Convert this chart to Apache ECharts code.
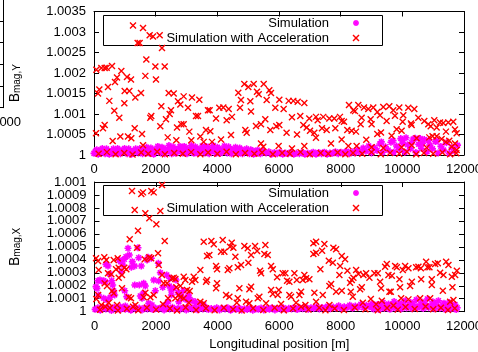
<!DOCTYPE html>
<html>
<head>
<meta charset="utf-8">
<script src="https://cdn.jsdelivr.net/npm/echarts@6/dist/echarts.min.js"></script>
<style>
  html, body { margin: 0; padding: 0; background: #fff; }
  #chart { width: 478px; height: 352px; }
</style>
</head>
<body>
<div id="chart"></div>
<script>
// ---- data -----------------------------------------------------------------
const seriesNames = ['Simulation', 'Simulation with Acceleration'];
const xTicks = [0, 2000, 4000, 6000, 8000, 10000, 12000];
const yTicksMagY = [1, 1.0005, 1.001, 1.0015, 1.002, 1.0025, 1.003, 1.0035];
const yTicksMagX = [1, 1.0001, 1.0002, 1.0003, 1.0004, 1.0005, 1.0006, 1.0007, 1.0008, 1.0009, 1.001];
const xAxisTitle = 'Longitudinal position [m]';

// B_mag,Y : plain simulation
const simMagY = [
  [0,1.00004],[90,1.00013],[180,1.00007],[270,1.00016],[360,1.00003],[450,1.00011],[540,1.00005],[630,1.00015],
  [720,1.00004],[810,1.00012],[900,1.00008],[990,1.00016],[1080,1.00003],[1170,1.00011],[1260,1.00006],[1350,1.00015],
  [1440,1.00005],[1530,1.00014],[1620,1.00008],[1710,1.00019],[1800,1.00004],[1890,1.00014],[1980,1.00008],[2070,1.00021],
  [2160,1.00005],[2250,1.00016],[2340,1.00010],[2430,1.00023],[2520,1.00003],[2610,1.00015],[2700,1.00008],[2790,1.00021],
  [2880,1.00005],[2970,1.00017],[3060,1.00011],[3150,1.00023],[3240,1.00004],[3330,1.00016],[3420,1.00009],[3510,1.00022],
  [3600,1.00005],[3690,1.00017],[3780,1.00010],[3870,1.00023],[3960,1.00004],[4050,1.00015],[4140,1.00008],[4230,1.00022],
  [4320,1.00005],[4410,1.00016],[4500,1.00009],[4590,1.00019],[4680,1.00004],[4770,1.00014],[4860,1.00007],[4950,1.00015],
  [5040,1.00003],[5130,1.00011],[5220,1.00006],[5310,1.00012],[5400,1.00003],[5490,1.00009],[5580,1.00005],[5670,1.00008],
  [5760,1.00002],[5850,1.00006],[5940,1.00003],[6030,1.00007],[6120,1.00002],[6210,1.00005],[6300,1.00003],[6390,1.00007],
  [6480,1.00002],[6570,1.00005],[6660,1.00003],[6750,1.00006],[6840,1.00002],[6930,1.00005],[7020,1.00003],[7110,1.00007],
  [7200,1.00002],[7290,1.00006],[7380,1.00003],[7470,1.00007],[7560,1.00002],[7650,1.00005],[7740,1.00004],[7830,1.00008],
  [7920,1.00003],[8010,1.00007],[8100,1.00004],[8190,1.00009],[8280,1.00003],[8370,1.00008],[8460,1.00005],[8550,1.00013],
  [8640,1.00006],[8730,1.00017],[8820,1.00009],[8910,1.00022],[9000,1.00005],[9090,1.00018],[9180,1.00011],[9270,1.00027],
  [9360,1.00006],[9450,1.00020],[9540,1.00012],[9630,1.00031],[9720,1.00007],[9810,1.00022],[9900,1.00014],[9990,1.00036],
  [10080,1.00007],[10170,1.00025],[10260,1.00015],[10350,1.00039],[10440,1.00006],[10530,1.00026],[10620,1.00016],[10710,1.00038],
  [10800,1.00008],[10890,1.00024],[10980,1.00015],[11070,1.00033],[11160,1.00005],[11250,1.00021],[11340,1.00012],[11430,1.00030],
  [11520,1.00004],[11610,1.00018],[11700,1.00009],[11790,1.00024],
  [9320,1.00032],[9700,1.00035],[9950,1.00040],[10120,1.00042],[10420,1.00041],[10580,1.00040],[10850,1.00036],[11120,1.00034],
  [10010,1.00028],[10300,1.00030],[10660,1.00029],
  [45,1.00009],[135,1.00002],[225,1.00012],[315,1.00006],[405,1.00015],[495,1.00002],[585,1.00010],[675,1.00007],
  [765,1.00016],[855,1.00003],[945,1.00012],[1035,1.00006],[1125,1.00015],[1215,1.00002],[1305,1.00011],[1395,1.00008],
  [1485,1.00016],[1575,1.00003],[1665,1.00012],[1755,1.00007],[1845,1.00017],[1935,1.00002],[2025,1.00013],[2115,1.00009],
  [2205,1.00019],[2295,1.00003],[2385,1.00014],[2475,1.00008],[2565,1.00020],[2655,1.00004],[2745,1.00014],[2835,1.00010],
  [2925,1.00021],[3015,1.00003],[3105,1.00015],[3195,1.00008],[3285,1.00020],[3375,1.00004],[3465,1.00014],[3555,1.00010],
  [3645,1.00021],[3735,1.00003],[3825,1.00015],[3915,1.00008],[4005,1.00019],[4095,1.00004],[4185,1.00013],[4275,1.00010],
  [4365,1.00020],[4455,1.00003],[4545,1.00013],[4635,1.00008],[4725,1.00017],[4815,1.00003],[4905,1.00011],[4995,1.00007],
  [5085,1.00013],[5175,1.00002],[5265,1.00009],[5355,1.00005],[5445,1.00010]
];

// B_mag,Y : simulation with acceleration
const accMagY = [
  [1265,1.00316],[1590,1.00310],[1805,1.00292],[1913,1.00289],[2130,1.00292],[1415,1.00273],[1480,1.00273],[2205,1.00261],
  [1697,1.00233],[76,1.00208],[238,1.00212],[346,1.00212],[411,1.00213],[584,1.00217],[886,1.00205],[746,1.00189],
  [681,1.00178],[1070,1.00190],[1200,1.00184],[1665,1.00193],[1990,1.00216],[2010,1.00184],[2293,1.00216],[454,1.00166],
  [173,1.00160],[130,1.00150],[995,1.00156],[1146,1.00156],[1340,1.00140],[1524,1.00151],[2422,1.00151],[2585,1.00150],
  [497,1.00132],[984,1.00126],[2908,1.00143],[2724,1.00131],[2800,1.00123],[3178,1.00140],[3416,1.00135],[3049,1.00115],
  [2183,1.00119],[658,1.00108],[820,1.00091],[1858,1.00095],[1826,1.00091],[2497,1.00109],[2455,1.00100],[2335,1.00087],
  [3308,1.00095],[3373,1.00095],[3697,1.00109],[3751,1.00109],[3957,1.00089],[346,1.00073],[292,1.00065],[1320,1.00065],
  [1557,1.00051],[2150,1.00070],[2830,1.00075],[2908,1.00075],[2692,1.00067],[3092,1.00057],[3632,1.00061],[3773,1.00058],
  [3448,1.00045],[3156,1.00036],[65,1.00053],[606,1.00034],[854,1.00045],[1103,1.00045],[1210,1.00041],[2390,1.00043],
  [2670,1.00036],[1590,1.00024],[3557,1.00032],[3827,1.00032],
  [4875,1.00173],[5005,1.00166],[5180,1.00173],[5504,1.00173],[4680,1.00152],[5286,1.00154],[5342,1.00148],[5686,1.00158],
  [5740,1.00151],[4767,1.00134],[5070,1.00131],[5600,1.00134],[6010,1.00135],[6314,1.00132],[6464,1.00132],[6606,1.00130],
  [6821,1.00127],[4064,1.00115],[4194,1.00116],[4369,1.00112],[4735,1.00115],[4475,1.00093],[4302,1.00085],[5092,1.00106],
  [5880,1.00115],[6150,1.00112],[5555,1.00087],[5416,1.00075],[5254,1.00071],[6421,1.00092],[6690,1.00095],[6982,1.00089],
  [7199,1.00093],[7254,1.00085],[7436,1.00093],[7631,1.00089],[7793,1.00089],[4907,1.00061],[4952,1.00054],[4443,1.00049],
  [5912,1.00070],[6010,1.00073],[5718,1.00061],[6788,1.00073],[6898,1.00067],[7005,1.00059],[7145,1.00054],[7394,1.00065],
  [7546,1.00061],[7826,1.00065],[6246,1.00054],[6584,1.00050],[7199,1.00042],[4119,1.00038],[5416,1.00028],[5491,1.00020],
  [5988,1.00022],[6821,1.00022],[7686,1.00028],[6421,1.00016],
  [8270,1.00122],[8572,1.00122],[8409,1.00109],[8464,1.00107],[8756,1.00116],[8896,1.00112],[9058,1.00116],[9188,1.00105],
  [9275,1.00097],[9382,1.00117],[9577,1.00119],[9706,1.00109],[9761,1.00096],[9901,1.00116],[10031,1.00097],[10193,1.00115],
  [10388,1.00112],[8681,1.00091],[8973,1.00087],[9490,1.00083],[10010,1.00081],[10518,1.00091],[10280,1.00077],[10302,1.00073],
  [10712,1.00083],[10842,1.00075],[10920,1.00070],[11036,1.00085],[11220,1.00079],[11328,1.00078],[11490,1.00079],[11652,1.00081],
  [11113,1.00067],[11707,1.00062],[11762,1.00053],[11415,1.00057],[8215,1.00061],[8356,1.00059],[8497,1.00057],[8032,1.00083],
  [8107,1.00081],[8648,1.00075],[9004,1.00075],[7977,1.00093],[9815,1.00063],[9977,1.00059],[9188,1.00051],[9307,1.00055],
  [9653,1.00047],[8830,1.00037],[8032,1.00038],[8518,1.00022],[8248,1.00022],[10875,1.00043],[10980,1.00046],[11113,1.00046],
  [10463,1.00041],[11273,1.00039],[11415,1.00032],[11522,1.00035],[10302,1.00024],[11707,1.00028],[11600,1.00020],[11762,1.00012],
  [9004,1.00019],[9382,1.00017],[9977,1.00019],[10788,1.00018],
  [150,1.00003],[420,1.00007],[700,1.00002],[980,1.00005],[1250,1.00001],[1530,1.00006],[1760,1.00003],[2050,1.00008],
  [2300,1.00002],[2600,1.00005],[2880,1.00003],[3150,1.00007],[3450,1.00002],[3700,1.00006],[4000,1.00003],[4300,1.00008],
  [4600,1.00002],[4900,1.00005],[5200,1.00003],[5450,1.00006],[5800,1.00002],[6100,1.00005],[6350,1.00003],[6700,1.00007],
  [7000,1.00002],[7350,1.00005],[7600,1.00003],[7900,1.00006],[8150,1.00002],[8400,1.00005],[8700,1.00003],[9000,1.00007],
  [9300,1.00002],[9600,1.00005],[9900,1.00003],[10150,1.00008],[10450,1.00002],[10700,1.00005],[11000,1.00003],[11300,1.00006],
  [11550,1.00002],[11750,1.00004]
];

// B_mag,X : plain simulation
const simMagX = [
  [1088,1.000489],[1413,1.000493],[1436,1.000416],[1306,1.000352],[1196,1.000342],[1520,1.000352],[1023,1.000424],[871,1.000308],
  [926,1.000360],[439,1.000352],[494,1.000291],[1706,1.000399],[1738,1.000419],[1846,1.000412],[2138,1.000301],[2086,1.000237],
  [1923,1.000244],[1976,1.000162],[2216,1.000188],[2431,1.000198],[2486,1.000167],[2573,1.000180],[2713,1.000147],[2788,1.000129],
  [2898,1.000103],[3005,1.000090],[3061,1.000111],[3168,1.000085],[3275,1.000077],[3418,1.000057],[3548,1.000052],[1598,1.000219],
  [1651,1.000198],[1306,1.000206],[1488,1.000121],[1543,1.000103],[981,1.000162],[624,1.000160],[656,1.000129],[299,1.000239],
  [351,1.000231],[114,1.000239],[81,1.000180],[136,1.000129],[299,1.000103],[406,1.000090],[513,1.000111],[1001,1.000044],
  [838,1.000039],[1761,1.000065],[1868,1.000052],[2300,1.000052],[2388,1.000077],[2736,1.000077],[2496,1.000129],
  [806,1.000399],[851,1.000386],[968,1.000404],[1131,1.000437],[374,1.000365],[179,1.000244],[234,1.000237],[49,1.000193],
  [559,1.000239],[591,1.000206],[1228,1.000386],[2073,1.000373],[2346,1.000283],[2453,1.000258],[2648,1.000244],[2885,1.000162],
  [3048,1.000129],[1456,1.000206],[1586,1.000142],[1046,1.000116],
  [20,1.000018],[110,1.000030],[190,1.000012],[280,1.000036],[370,1.000020],[460,1.000028],[550,1.000010],[640,1.000034],
  [730,1.000022],[820,1.000015],[910,1.000031],[1000,1.000019],[1090,1.000026],[1180,1.000012],[1270,1.000033],[1360,1.000021],
  [1450,1.000028],[1540,1.000014],[1630,1.000030],[1720,1.000020],[1810,1.000035],[1900,1.000016],[1990,1.000027],[2080,1.000022],
  [2170,1.000032],[2260,1.000014],[2350,1.000029],[2440,1.000020],[2530,1.000034],[2620,1.000017],[2710,1.000026],[2800,1.000021],
  [2890,1.000031],[2980,1.000013],[3070,1.000027],[3160,1.000022],[3250,1.000035],[3340,1.000015],[3430,1.000028],[3520,1.000020],
  [3610,1.000032],[3700,1.000016],[3790,1.000025],[3880,1.000019],[3970,1.000030],[4060,1.000014],[4150,1.000026],[4240,1.000021],
  [4330,1.000030],[4420,1.000012],[4510,1.000024],[4600,1.000018],[4690,1.000028],[4780,1.000013],[4870,1.000022],[4960,1.000017],
  [5050,1.000027],[5140,1.000011],[5230,1.000023],[5320,1.000018],[5410,1.000029],[5500,1.000014],[5590,1.000024],[5680,1.000019],
  [5770,1.000030],[5860,1.000013],[5950,1.000025],[6040,1.000020],[6130,1.000031],[6220,1.000015],[6310,1.000026],[6400,1.000021],
  [6490,1.000033],[6580,1.000016],[6670,1.000028],[6760,1.000022],[6850,1.000035],[6940,1.000018],[7030,1.000030],[7120,1.000024],
  [7210,1.000038],[7300,1.000020],[7390,1.000033],[7480,1.000026],[7570,1.000041],[7660,1.000022],[7750,1.000036],[7840,1.000028],
  [7930,1.000045],[8020,1.000024],[8110,1.000039],[8200,1.000030],[8290,1.000050],[8380,1.000027],[8470,1.000044],[8560,1.000034],
  [8650,1.000057],[8740,1.000030],[8830,1.000050],[8920,1.000038],[9010,1.000062],[9100,1.000033],[9190,1.000055],[9280,1.000042],
  [9370,1.000071],[9460,1.000036],[9550,1.000060],[9640,1.000047],[9730,1.000078],[9820,1.000040],[9910,1.000066],[10000,1.000052],
  [10090,1.000085],[10180,1.000043],[10270,1.000070],[10360,1.000056],[10450,1.000092],[10540,1.000045],[10630,1.000074],[10720,1.000060],
  [10810,1.000098],[10900,1.000046],[10990,1.000077],[11080,1.000058],[11170,1.000085],[11260,1.000040],[11350,1.000066],[11440,1.000050],
  [11530,1.000070],[11620,1.000035],[11710,1.000055],[11780,1.000030],
  [9055,1.000020],[9235,1.000016],[9415,1.000024],[9595,1.000018],[9775,1.000026],[9955,1.000020],[10135,1.000028],[10315,1.000022],
  [10495,1.000030],[10675,1.000024],[10855,1.000030],[11035,1.000022],[11215,1.000026],[11395,1.000018],[11575,1.000022],[11745,1.000016]
];

// B_mag,X : simulation with acceleration
const accMagX = [
  [2193,1.000977],[1218,1.000931],[1520,1.000907],[1576,1.000920],[1846,1.000931],[1923,1.000920],[1306,1.000784],[1651,1.000759],
  [1781,1.000720],[2138,1.000776],[2008,1.000674],[1413,1.000625],[1144,1.000558],[2281,1.000545],[1381,1.000493],[2063,1.000450],
  [3548,1.000540],[3795,1.000545],[3873,1.000520],[3655,1.000429],[3730,1.000437],[3437,1.000322],[49,1.000412],[114,1.000391],
  [318,1.000419],[383,1.000399],[624,1.000399],[754,1.000412],[786,1.000339],[699,1.000327],[968,1.000339],[1033,1.000327],
  [439,1.000296],[546,1.000288],[893,1.000283],[786,1.000262],[136,1.000322],[1631,1.000404],[1781,1.000419],[1836,1.000412],
  [2086,1.000360],[2193,1.000283],[2518,1.000258],[2573,1.000262],[2626,1.000252],[2898,1.000270],[2950,1.000244],[3005,1.000167],
  [3223,1.000270],[3275,1.000244],[3168,1.000231],[3655,1.000244],[3623,1.000231],[3980,1.000327],[2248,1.000219],[2355,1.000219],
  [2658,1.000188],[2788,1.000198],[3093,1.000160],[331,1.000219],[406,1.000198],[893,1.000180],[569,1.000160],[624,1.000142],
  [114,1.000129],[59,1.000098],[1111,1.000111],[1186,1.000103],[1651,1.000147],[1598,1.000111],[1923,1.000129],[1813,1.000111],
  [2388,1.000103],[2626,1.000103],[2736,1.000129],[2788,1.000111],[2898,1.000103],[3437,1.000077],[3548,1.000065],[461,1.000069],
  [731,1.000052],[1326,1.000052],[1251,1.000039],[221,1.000052],[351,1.000039],[2226,1.000057],[3061,1.000069],[3980,1.000219],
  [4165,1.000553],[4457,1.000532],[4402,1.000501],[4510,1.000493],[4218,1.000463],[4110,1.000463],[4867,1.000507],[4977,1.000489],
  [5215,1.000507],[5280,1.000468],[5549,1.000514],[5517,1.000445],[5627,1.000437],[5085,1.000437],[4575,1.000424],[4760,1.000360],
  [4653,1.000342],[4997,1.000378],[4380,1.000335],[4328,1.000322],[3948,1.000352],[5377,1.000316],[5410,1.000296],[5735,1.000352],
  [5790,1.000327],[5930,1.000265],[6114,1.000296],[6199,1.000296],[6492,1.000296],[6254,1.000239],[6329,1.000231],[6570,1.000244],
  [6816,1.000283],[6872,1.000258],[6979,1.000250],[6765,1.000244],[7109,1.000527],[7197,1.000540],[7109,1.000445],[7197,1.000455],
  [7466,1.000522],[7391,1.000470],[7758,1.000493],[7846,1.000481],[7336,1.000327],[7609,1.000393],[7739,1.000378],[7684,1.000214],
  [7629,1.000198],[7954,1.000283],[7141,1.000147],[6709,1.000154],[6654,1.000129],[5985,1.000167],[5952,1.000129],[6329,1.000129],
  [6384,1.000116],[5354,1.000116],[5302,1.000103],[5735,1.000167],[5790,1.000137],[4272,1.000129],[4380,1.000116],[4705,1.000180],
  [4653,1.000103],[5085,1.000193],[5030,1.000173],[3948,1.000180],[7413,1.000129],[7846,1.000154],[4620,1.000069],[4922,1.000077],
  [5030,1.000065],[5572,1.000065],[6059,1.000059],[6547,1.000069],[6709,1.000039],[6849,1.000052],[7197,1.000077],[7629,1.000052],
  [8031,1.000429],[8139,1.000404],[7976,1.000352],[8213,1.000316],[8496,1.000322],[8571,1.000291],[8733,1.000283],[8821,1.000296],
  [8408,1.000262],[8356,1.000244],[8928,1.000262],[9091,1.000296],[9201,1.000296],[9438,1.000347],[9493,1.000368],[9546,1.000283],
  [9656,1.000278],[9764,1.000352],[9818,1.000342],[10013,1.000322],[10088,1.000352],[10196,1.000335],[10445,1.000342],[10520,1.000347],
  [10598,1.000335],[10770,1.000386],[10813,1.000342],[10878,1.000342],[11063,1.000368],[11150,1.000373],[11225,1.000301],[11333,1.000283],
  [11420,1.000386],[11495,1.000360],[11605,1.000270],[11713,1.000283],[11768,1.000316],[8301,1.000224],[8681,1.000188],[8626,1.000173],
  [8031,1.000162],[8323,1.000154],[8388,1.000116],[9276,1.000231],[9308,1.000180],[9578,1.000154],[9623,1.000154],[9903,1.000250],
  [9925,1.000188],[10250,1.000198],[10306,1.000231],[10608,1.000250],[10955,1.000250],[10955,1.000206],[11313,1.000162],[11625,1.000188],
  [8974,1.000098],[9331,1.000085],[9958,1.000103],[10196,1.000095],[10575,1.000103],[10900,1.000103],[11550,1.000077],[11657,1.000090],
  [8714,1.000069],[9146,1.000057],[9708,1.000047],
  [180,1.000015],[500,1.000028],[760,1.000010],[1050,1.000022],[1420,1.000012],[1700,1.000030],[2000,1.000016],[2450,1.000024],
  [2680,1.000010],[2960,1.000032],[3300,1.000014],[3620,1.000026],[3900,1.000012],[4200,1.000030],[4500,1.000018],[4780,1.000010],
  [5150,1.000026],[5480,1.000014],[5850,1.000030],[6150,1.000012],[6450,1.000024],[6950,1.000016],[7300,1.000030],[7500,1.000012],
  [7800,1.000024],[8100,1.000014],[8450,1.000032],[8800,1.000018],[9200,1.000012],[9500,1.000028],[9850,1.000016],[10100,1.000036],
  [10400,1.000020],[10750,1.000040],[11000,1.000018],[11250,1.000030],[11480,1.000014],[11700,1.000026]
];

// ---- styling helpers ------------------------------------------------------
const FONT = 'Liberation Sans';
const BLACK = '#000';
const MAGENTA = '#ff00ff';
const RED = '#ff0000';
const crossPath = 'M0,0L10,10M10,0L0,10';
const starPath = 'M5,0L5,10M0,5L10,5M1.5,1.5L8.5,8.5M8.5,1.5L1.5,8.5';
// the same glyphs as unit segments, used for the key samples
const crossSegs = [[0, 0, 1, 1], [1, 0, 0, 1]];
const starSegs = [[0.5, 0, 0.5, 1], [0, 0.5, 1, 0.5], [0.15, 0.15, 0.85, 0.85], [0.85, 0.15, 0.15, 0.85]];

function fmtTick(ticks) {
  return function (v) {
    let best = ticks[0];
    for (const t of ticks) if (Math.abs(t - v) < Math.abs(best - v)) best = t;
    return String(best);
  };
}

function xAxisPair(gridIndex, withName) {
  const base = {
    gridIndex, type: 'value', min: xTicks[0], max: xTicks[xTicks.length - 1],
    interval: xTicks[1] - xTicks[0],
    axisLine: { show: true, onZero: false, lineStyle: { color: BLACK, width: 1 } },
    axisTick: { show: true, inside: true, length: 5, lineStyle: { color: BLACK, width: 1 } },
    splitLine: { show: false }, minorTick: { show: false }
  };
  return [
    Object.assign({}, base, {
      position: 'bottom',
      axisLabel: { show: true, margin: 8, color: BLACK, fontSize: 13, fontFamily: FONT,
                   formatter: fmtTick(xTicks),
                   showMinLabel: true, showMaxLabel: true, hideOverlap: false },
      name: withName ? xAxisTitle : '',
      nameLocation: 'middle', nameGap: 26,
      nameTextStyle: { color: BLACK, fontSize: 13, fontFamily: FONT }
    }),
    Object.assign({}, base, { position: 'top', axisLabel: { show: false } })
  ];
}

function yAxisPair(gridIndex, ticks, nameRich, showLabels) {
  const base = {
    gridIndex, type: 'value', min: ticks[0], max: ticks[ticks.length - 1],
    interval: ticks[1] - ticks[0],
    axisLine: { show: true, onZero: false, lineStyle: { color: BLACK, width: 1 } },
    axisTick: { show: true, inside: true, length: 5, lineStyle: { color: BLACK, width: 1 } },
    splitLine: { show: false }, minorTick: { show: false }
  };
  return [
    Object.assign({}, base, {
      position: 'left',
      axisLabel: { show: showLabels, margin: 8, color: BLACK, fontSize: 13, fontFamily: FONT,
                   formatter: fmtTick(ticks), showMinLabel: true, showMaxLabel: true },
      name: nameRich || '',
      nameLocation: 'middle', nameGap: 72, nameRotate: 90,
      nameTextStyle: {
        color: BLACK, fontFamily: FONT,
        rich: {
          b: { fontSize: 14, fontFamily: FONT, color: BLACK, lineHeight: 14, verticalAlign: 'top', padding: [0, 0, 2, 0] },
          s: { fontSize: 10, fontFamily: FONT, color: BLACK, lineHeight: 10, verticalAlign: 'bottom' }
        }
      }
    }),
    Object.assign({}, base, { position: 'right', axisLabel: { show: false } })
  ];
}

function scatter(name, data, xi, yi, path, color, size, width) {
  return {
    type: 'scatter', name, data, xAxisIndex: xi, yAxisIndex: yi,
    symbol: 'path://' + path, symbolSize: size, symbolKeepAspect: true,
    itemStyle: { color: color, borderColor: color, borderWidth: width, opacity: 1 },
    emphasis: { disabled: true }, animation: false, clip: true, silent: true
  };
}

function keyBox(top) {
  const items = [
    { type: 'rect', shape: { x: 103.5, y: top + 0.5, width: 279, height: 30 },
      style: { fill: 'none', stroke: BLACK, lineWidth: 1 } }
  ];
  const rows = [
    { label: seriesNames[0], segs: starSegs, color: MAGENTA, dy: 8, w: 1.6 },
    { label: seriesNames[1], segs: crossSegs, color: RED, dy: 23, w: 1.4 }
  ];
  const size = 6, cx = 356;
  for (const r of rows) {
    items.push({
      type: 'text', x: 329, y: top + r.dy,
      style: { text: r.label, font: '13px "' + FONT + '"', fill: BLACK,
               textAlign: 'right', textVerticalAlign: 'middle', align: 'right', verticalAlign: 'middle' }
    });
    const x0 = cx - size / 2, y0 = top + r.dy - size / 2;
    for (const s of r.segs) {
      items.push({
        type: 'line',
        shape: { x1: x0 + s[0] * size, y1: y0 + s[1] * size, x2: x0 + s[2] * size, y2: y0 + s[3] * size },
        style: { stroke: r.color, lineWidth: r.w }
      });
    }
  }
  return items;
}

// ---- layout ---------------------------------------------------------------
const grids = [
  { left: 94, top: 11.5, width: 370, height: 143.5, outerBoundsMode: 'none', containLabel: false },
  { left: 94.5, top: 182, width: 369.5, height: 129.7, outerBoundsMode: 'none', containLabel: false },
  { left: -360, top: -0.8, width: 363, height: 108.5, outerBoundsMode: 'none', containLabel: false }
];

const xAxes = [].concat(xAxisPair(0, false), xAxisPair(1, true), xAxisPair(2, false));
const yAxes = [].concat(
  yAxisPair(0, yTicksMagY, '{b|B}{s|mag,Y}', true),
  yAxisPair(1, yTicksMagX, '{b|B}{s|mag,X}', true),
  yAxisPair(2, [0, 1, 2, 3, 4, 5], '', false)
);

const chart = echarts.init(document.getElementById('chart'), null, { renderer: 'canvas' });
chart.setOption({
  animation: false,
  backgroundColor: '#fff',
  textStyle: { fontFamily: FONT },
  grid: grids,
  xAxis: xAxes,
  yAxis: yAxes,
  series: [
    scatter(seriesNames[0], simMagY, 0, 0, starPath, MAGENTA, 7, 1.6),
    scatter(seriesNames[1], accMagY, 0, 0, crossPath, RED, 6, 1.4),
    scatter(seriesNames[0], simMagX, 2, 2, starPath, MAGENTA, 7, 1.6),
    scatter(seriesNames[1], accMagX, 2, 2, crossPath, RED, 6, 1.4)
  ],
  graphic: { elements: keyBox(15).concat(keyBox(185)) }
});
</script>
</body>
</html>
